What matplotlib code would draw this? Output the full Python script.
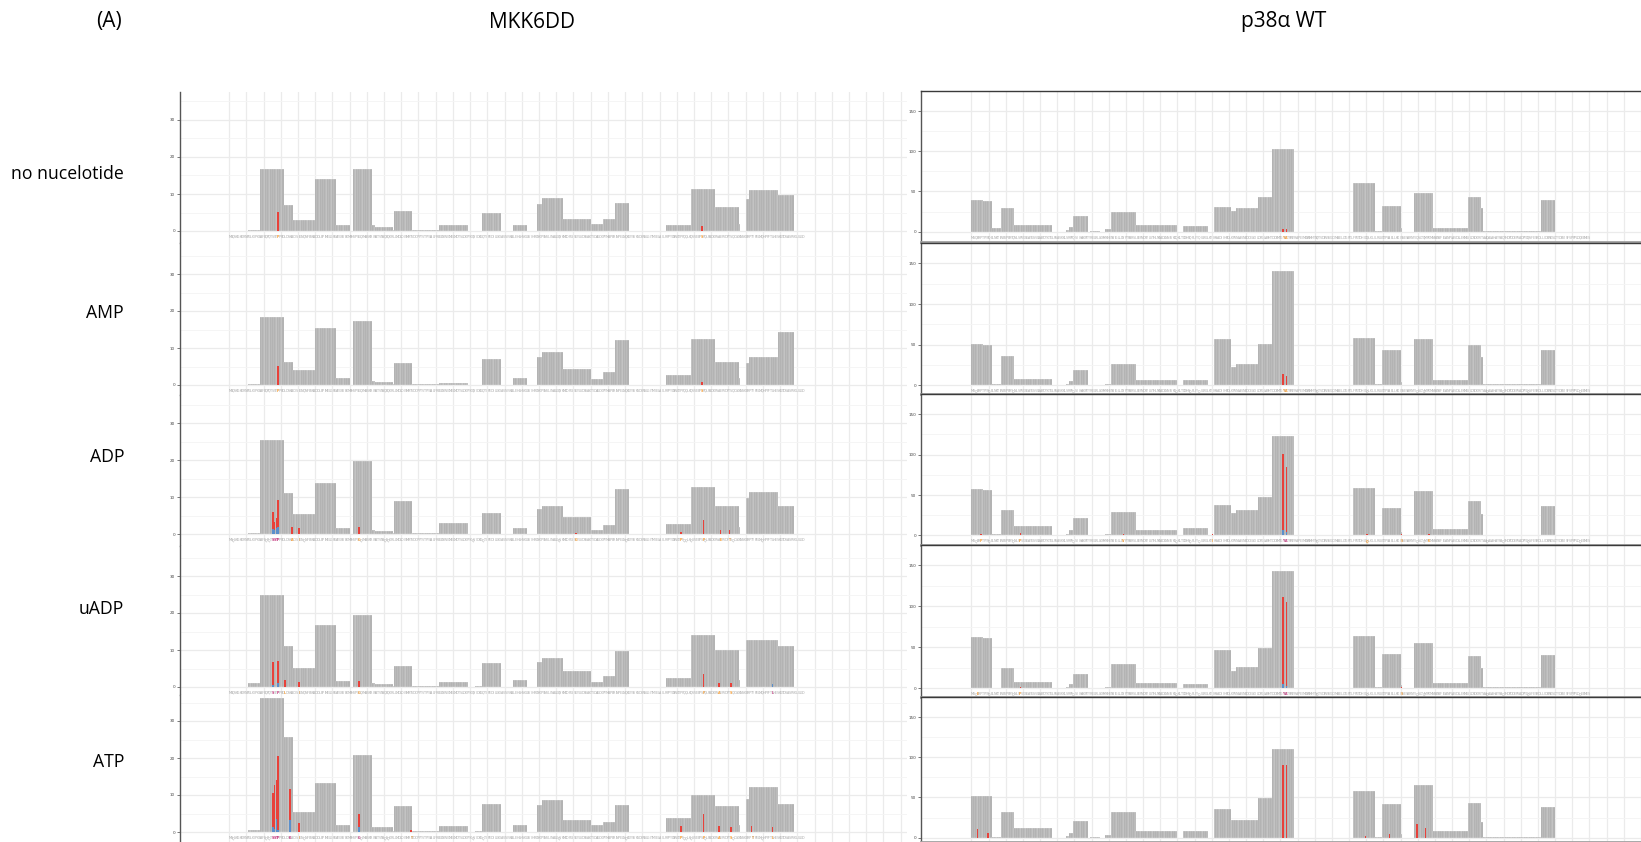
import matplotlib
matplotlib.use("Agg")
import matplotlib.pyplot as plt
import numpy as np
from matplotlib.transforms import offset_copy

W, H = 1641, 842

# sequences used as x labels
mkk_seq = ("MSQSKGKKRNPGLKIPKEAFEQPQTSSTPPRDLDSKACISIGNQNFEVKADDLEPIMELGRGAYGVVEKMRHVPSGQIMAVKRIRATVNSQEQ"
           "KRLLMDLDISMRTVDCPFTVTFYGALFREGDVWICMELMDTSLDKFYKQVIDKGQTIPEDILGKIAVSIVKALEHLHSKLSVIHRDVKPSNVLI"
           "NALGQVKMCDFGISGYLVDSVAKTIDAGCKPYMAPERINPELNQKGYSVKSDIWSLGITMIELAILRFPYDSWGTPFQQLKQVVEEPSPQLPADK"
           "FSAEFVDFTSQCLKKNSKERPTYPELMQHPFFTLHESKGTDVASFVKLILGD")
p38_seq = ("MSQERPTFYRQELNKTIWEVPERYQNLSPVGSGAYGSVCAAFDTKTGLRVAVKKLSRPFQSIIHAKRTYRELRLLKHMKHENVIGLLDVFTPAR"
           "SLEEFNDVYLVTHLMGADLNNIVKCQKLTDDHVQFLIYQILRGLKYIHSADIIHRDLKPSNLAVNEDCELKILDFGLARHTDDEMTGYVATRWYRA"
           "PEIMLNWMHYNQTVDIWSVGCIMAELLTGRTLFPGTDHIDQLKLILRLVGTPGAELLKKISSESARNYIQSLTQMPKMNFANVFIGANPLAVDLLE"
           "KMLVLDSDKRITAAQALAHAYFAQYHDPDDEPVADPYDQSFESRDLLIDEWKSLTYDEVISFVPPPLDQEEMES")

row_names = ["no nucelotide", "AMP", "ADP", "uADP", "ATP"]

# MKK6DD peptide segments (residue start/end) and coverage per condition
mkk_seg_start = [11, 18, 32, 37, 50, 62, 72, 83, 85, 95, 96, 106, 122, 143, 147, 165, 179, 182, 194, 210,
                 217, 224, 254, 268, 282, 296, 300, 302, 319]
mkk_seg_end = [18, 32, 37, 50, 62, 70, 83, 85, 95, 96, 106, 122, 139, 147, 158, 173, 182, 194, 210, 217,
               224, 232, 268, 282, 296, 297, 302, 319, 328]
mkk_none = [0.4, 16.8, 7.0, 3.0, 14.0, 1.6, 16.8, 1.6, 1.0, 0.4, 5.3, 0.3, 1.6, 0, 5.0, 1.6, 7.4, 9.0, 3.3,
            2.0, 3.3, 7.7, 1.6, 11.4, 6.4, 1.9, 8.7, 11.1, 9.6]
mkk_amp = [0.3, 18.4, 6.2, 4.0, 15.3, 2.0, 17.2, 1.0, 0.8, 0.4, 5.9, 0.3, 0.6, 0, 7.1, 2.0, 7.6, 8.8, 4.2,
           1.7, 3.4, 12.1, 2.8, 12.4, 6.2, 2.0, 5.9, 7.6, 14.4]
mkk_adp = [0.3, 25.4, 11.0, 5.4, 13.8, 1.7, 19.8, 1.0, 0.8, 0.4, 9.0, 0.3, 3.1, 0, 5.6, 1.7, 6.8, 7.6, 4.5,
           1.1, 2.3, 12.1, 2.8, 12.7, 7.6, 2.0, 9.6, 11.3, 7.6]
mkk_uadp = [1.0, 24.9, 11.0, 5.1, 16.7, 1.7, 19.5, 1.0, 0.8, 0.4, 5.6, 0.3, 1.4, 0.3, 6.5, 2.0, 6.8, 7.9, 4.2,
            1.4, 3.1, 9.6, 2.5, 14.1, 9.9, 2.0, 12.7, 12.7, 11.0]
mkk_atp = [0.5, 36.1, 25.6, 5.5, 13.2, 2.0, 20.9, 1.3, 1.3, 0.4, 6.9, 0.3, 1.6, 0.3, 7.7, 2.0, 7.3, 8.6, 3.3,
           2.0, 2.6, 7.3, 3.7, 9.9, 7.1, 2.0, 8.8, 12.1, 7.6]

# p38a WT peptide segments and coverage
p38_seg_start = [0, 7, 12, 17, 25, 55, 57, 59, 69, 78, 81, 96, 123, 141, 151, 154, 167, 175, 222, 235, 239,
                 250, 258, 269, 289, 297, 298, 332]
p38_seg_end = [7, 12, 17, 25, 47, 57, 59, 68, 75, 81, 96, 120, 138, 151, 154, 167, 175, 188, 235, 239, 250,
               251, 269, 289, 297, 298, 332, 340]
p38_none = [38.8, 37.8, 4.0, 29.9, 7.9, 1.8, 6.1, 19.8, 0.7, 2.9, 24.8, 7.9, 6.8, 30.6, 25.5, 28.8, 42.8, 102.9,
            60.8, 1.1, 32.0, 4.7, 47.8, 5.0, 42.8, 28.8, 1.1, 38.8]
p38_amp = [50.8, 49.7, 2.0, 36.0, 7.9, 1.8, 5.0, 19.0, 0.5, 2.0, 26.0, 6.8, 6.8, 56.4, 22.6, 26.0, 50.8, 140.0,
           58.7, 1.1, 42.9, 4.0, 56.4, 6.8, 49.7, 35.0, 1.1, 42.9]
p38_adp = [57.2, 56.1, 1.8, 32.0, 11.2, 1.8, 6.8, 21.9, 0, 1.8, 29.1, 6.8, 9.0, 37.8, 27.3, 30.9, 47.1, 122.7,
           58.7, 1.1, 33.9, 4.0, 55.3, 7.9, 42.9, 27.0, 1.1, 36.1]
p38_uadp = [63.2, 62.0, 1.0, 24.8, 7.9, 1.8, 5.6, 18.0, 0.5, 1.5, 29.3, 6.8, 5.6, 47.4, 21.4, 26.0, 49.7, 143.3,
            64.3, 1.1, 41.8, 4.0, 55.3, 6.8, 39.5, 25.0, 2.0, 40.6]
p38_atp = [51.9, 51.9, 0.5, 31.6, 12.4, 1.8, 5.6, 20.3, 0.5, 3.0, 31.6, 7.9, 7.9, 36.1, 21.4, 21.4, 49.7, 110.6,
           58.7, 1.1, 41.8, 4.0, 65.5, 7.9, 42.9, 20.0, 1.0, 38.4]

# highlighted residues: (residue, red top, blue top)
mkk_marks = [
    [(28, 5.2, 0), (274, 1.4, 0)],
    [(28, 5.1, 0), (274, 0.8, 0)],
    [(25, 6.0, 1.3), (26, 3.2, 1.0), (27, 4.2, 1.7), (28, 9.2, 2.0), (36, 2.0, 0), (40, 1.7, 0), (75, 2.0, 0),
     (201, 0.4, 0), (262, 0.5, 0), (275, 3.7, 0), (285, 1.2, 0), (290, 1.0, 0)],
    [(25, 6.8, 0.5), (28, 7.0, 1.0), (32, 2.0, 0), (40, 1.4, 0), (75, 1.7, 0), (275, 3.4, 0), (284, 1.0, 0),
     (291, 1.0, 0), (315, 0, 0.8)],
    [(25, 10.5, 1.3), (26, 12.6, 0.8), (27, 14.1, 3.5), (28, 20.6, 0.5), (35, 11.6, 3.2), (40, 2.3, 0),
     (75, 5.0, 1.3), (105, 0.5, 0), (262, 1.7, 0), (275, 5.0, 0), (284, 1.7, 0), (291, 1.4, 0), (303, 1.7, 0),
     (315, 1.4, 0)],
]
p38_marks = [
    [(181, 3.0, 0), (183, 3.0, 0)],
    [(181, 13.5, 0), (183, 11.3, 0)],
    [(5, 2.0, 0), (28, 3.2, 0), (88, 1.8, 0), (140, 1.5, 0), (181, 100.4, 6.5), (183, 84.2, 4.0), (230, 1.5, 0),
     (250, 1.5, 0), (266, 1.5, 0)],
    [(3, 1.0, 0), (28, 1.5, 0), (181, 111.7, 5.0), (183, 106.0, 3.0), (250, 1.2, 0)],
    [(3, 11.3, 0), (9, 5.6, 0), (181, 90.3, 0), (183, 90.3, 0), (229, 2.0, 0), (243, 4.5, 0), (259, 16.9, 0),
     (264, 12.4, 0)],
]

mkk_data = [mkk_none, mkk_amp, mkk_adp, mkk_uadp, mkk_atp]
p38_data = [p38_none, p38_amp, p38_adp, p38_uadp, p38_atp]

BAR = "#ababab"
RED = "#e8413a"
BLUE = "#5b8fcb"
ORANGE = "#f39c34"
MAGENTA = "#c2387e"

fig = plt.figure(figsize=(W / 100, H / 100), dpi=100)


def px_axes(left, top, right, bottom):
    return fig.add_axes([left / W, 1 - bottom / H, (right - left) / W, (bottom - top) / H])


def draw_panel(ax, starts, ends, heights, marks, seq, yticks, label_off):
    for s, e, h in zip(starts, ends, heights):
        if h <= 0:
            continue
        xs = np.arange(s, e) + 0.5
        ax.bar(xs, np.full(len(xs), h), width=1.0, color=BAR, edgecolor="white", linewidth=0.15, zorder=2)
    label_col = {}
    for r, red, blue in marks:
        if red > 0:
            ax.bar(r + 0.5, red, width=0.9, color=RED, linewidth=0, zorder=3)
        if blue > 0:
            ax.bar(r + 0.5, blue, width=0.9, color=BLUE, linewidth=0, zorder=4)
        label_col[r] = MAGENTA if blue > 0 else ORANGE
    tr = offset_copy(ax.transData, fig=fig, x=0, y=-label_off, units="dots")
    for i, ch in enumerate(seq):
        col = label_col.get(i, "#a9a9a9")
        ax.text(i + 0.5, 0, ch, transform=tr, fontsize=2.3, color=col, ha="center", va="center",
                family="DejaVu Sans", fontweight="bold" if i in label_col else "normal", zorder=5)
    ax.set_xticks(np.arange(0, 400, 10))
    ax.set_xticklabels([])
    ax.tick_params(axis="x", length=0)
    ax.set_yticks(yticks)
    ax.set_yticklabels([str(int(t)) for t in yticks], fontsize=3, color="#444444")
    step = yticks[1] - yticks[0]
    ax.set_yticks(np.arange(step / 2, yticks[-1] + step, step), minor=True)
    ax.tick_params(axis="y", which="major", length=2, width=0.5, color="#444444", pad=1.5)
    ax.tick_params(axis="y", which="minor", length=0)
    ax.grid(which="major", color="#ebebeb", linewidth=0.9, zorder=0)
    ax.grid(which="minor", axis="y", color="#f4f4f4", linewidth=0.6, zorder=0)
    ax.set_axisbelow(True)


# left column: MKK6DD
left_tops = [92, 243, 395, 546, 695]
left_bottoms = [243, 395, 546, 695, 842]
left_zeros = [231, 385, 534, 687, 832]
for i in range(5):
    ax = px_axes(180, left_tops[i], 907, left_bottoms[i])
    upx = 10 / 37.0
    ax.set_ylim(-(left_bottoms[i] - left_zeros[i]) * upx, (left_zeros[i] - left_tops[i]) * upx)
    ax.set_xlim(-28.5, 393.7)
    draw_panel(ax, mkk_seg_start, mkk_seg_end, mkk_data[i], mkk_marks[i], mkk_seq, [0, 10, 20, 30], 6)
    for sp in ["top", "right", "bottom"]:
        ax.spines[sp].set_visible(False)
    ax.spines["left"].set_color("#555555")
    ax.spines["left"].set_linewidth(1.0)

# right column: p38a WT
right_tops = [91, 243, 394, 545, 697]
right_bottoms = [242, 394, 545, 697, 842]
right_zeros = [230, 384, 534, 687, 837]
for i in range(5):
    ax = px_axes(921, right_tops[i], W, right_bottoms[i])
    t, z, b = right_tops[i], right_zeros[i], right_bottoms[i]
    ax.set_ylim(-(b - z) / (z - t) * 150, 150)
    ax.set_xlim(-29.4, 385.6)
    draw_panel(ax, p38_seg_start, p38_seg_end, p38_data[i], p38_marks[i], p38_seq, [0, 50, 100, 150], 6)
    ax.spines["right"].set_visible(False)
    ax.spines["left"].set_color("#555555")
    ax.spines["left"].set_linewidth(1.0)
    ax.spines["top"].set_color("#3a3a3a")
    ax.spines["top"].set_linewidth(1.0)
    ax.spines["bottom"].set_color("#a0a0a0")
    ax.spines["bottom"].set_linewidth(2.0)
    if i == 1:
        # the stray axis ticks every 50 residues under the AMP panel
        ax.set_xticks(np.arange(0, 400, 50), minor=True)
        ax.tick_params(axis="x", which="minor", length=2.5, width=0.7, color="#333333", direction="out")

# titles and row labels
fig.text(109 / W, 1 - 22 / H, "(A)", fontsize=15, family="Open Sans", ha="center", va="center")
fig.text(532 / W, 1 - 22 / H, "MKK6DD", fontsize=15, family="Open Sans", ha="center", va="center")
fig.text(1284 / W, 1 - 22 / H, "p38\u03b1 WT", fontsize=15, family="Open Sans", ha="center", va="center")
row_y = [174, 313, 457, 609, 762]
for name, y in zip(row_names, row_y):
    fig.text(124 / W, 1 - y / H, name, fontsize=12.7, family="Open Sans", ha="right", va="center")

fig.savefig("out.png", dpi=100, facecolor="white")
